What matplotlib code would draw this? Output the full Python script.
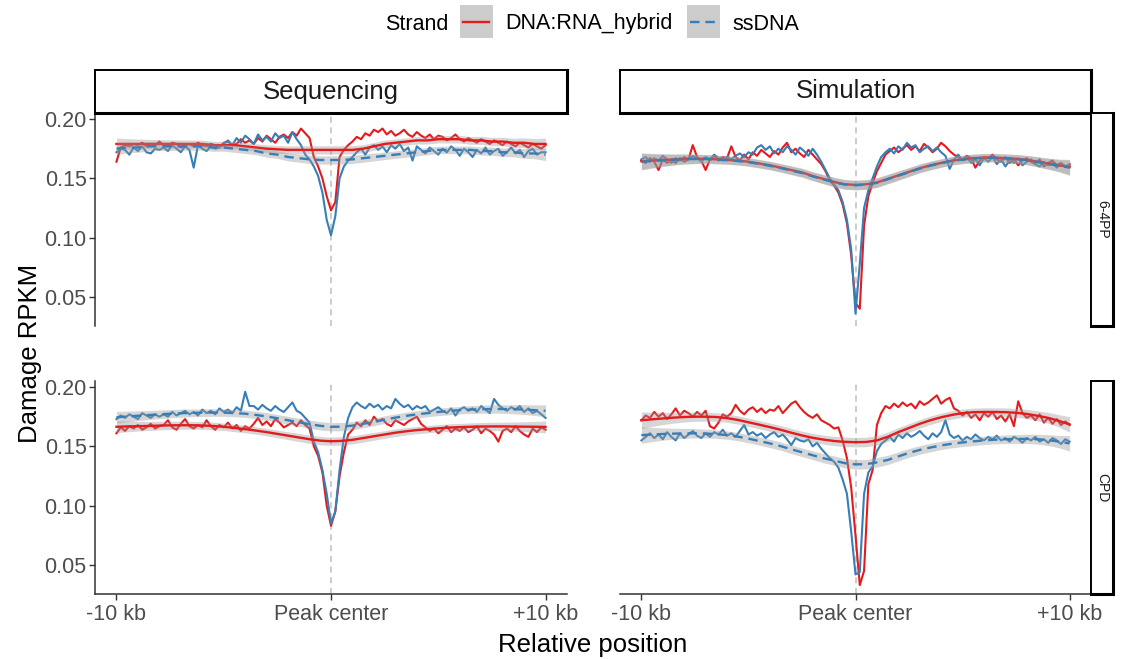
import numpy as np
import matplotlib
matplotlib.use("Agg")
import matplotlib.pyplot as plt
from matplotlib.patches import Rectangle
from matplotlib.lines import Line2D

plt.rcParams['font.family'] = ['Liberation Sans', 'DejaVu Sans']

# ---------------- data (values in thousandths of RPKM) ----------------
strands = ["DNA:RNA_hybrid", "ssDNA"]
methods = ["Sequencing", "Simulation"]
damages = ["6-4PP", "CPD"]
x_tick_labels = ["-10 kb", "Peak center", "+10 kb"]
y_ticks = [0.05, 0.10, 0.15, 0.20]

# raw profiles, 101 bins from -10 kb to +10 kb
seq_64pp_hybrid = [164,176,178,177,179,178,180,177,179,178,181,
                   178,177,180,179,176,178,179,177,180,178,
                   177,179,178,176,180,181,178,179,183,180,
                   182,179,184,181,186,183,180,185,187,184,
                   189,186,192,188,184,
                   168,160,150,135,123,
                   130,168,174,178,181,
                   185,183,188,186,191,
                   189,192,187,190,186,188,191,187,185,189,
                   186,184,187,183,186,185,182,184,187,183,
                   181,184,182,180,183,181,179,182,180,178,
                   181,179,177,180,178,176,179,177,175,178]
seq_64pp_ssdna = [172,175,174,170,176,173,177,172,171,175,174,
                  176,173,178,175,172,177,174,159,178,175,
                  173,177,175,176,179,182,178,184,180,186,
                  183,179,187,182,185,181,188,184,186,180,
                  189,183,178,170,166,
                  160,152,138,115,102,
                  118,150,160,165,168,
                  172,175,170,176,178,
                  174,177,172,178,175,179,173,176,165,177,
                  174,171,176,173,170,175,172,177,174,169,
                  175,172,168,174,171,176,170,173,175,169,
                  172,176,171,174,168,173,175,170,172,172]
sim_64pp_hybrid = [165,163,167,164,157,166,163,165,163,167,164,
                   166,178,168,165,157,166,169,165,168,167,
                   177,168,165,170,166,172,169,174,171,168,
                   173,170,176,180,172,175,171,168,174,170,
                   166,162,156,148,144,
                   138,128,112,85,45,
                   40,110,135,146,156,
                   163,170,173,176,172,
                   175,178,174,177,173,179,176,172,175,180,
                   177,173,170,168,166,169,167,159,165,168,
                   167,170,166,164,168,163,166,161,165,167,
                   164,162,166,160,163,165,161,163,160,162]
sim_64pp_ssdna = [166,168,164,167,165,169,166,163,167,165,168,
                  166,169,167,164,168,166,170,167,165,168,
                  166,169,171,168,172,170,176,178,174,177,
                  171,175,172,177,174,170,176,173,169,175,
                  170,164,157,150,145,
                  140,130,115,90,36,
                  78,125,140,150,160,
                  168,172,175,171,177,
                  174,180,176,178,172,175,177,173,176,172,
                  169,158,166,170,165,168,163,166,161,167,
                  164,168,162,166,160,165,163,167,161,164,
                  166,162,160,164,161,163,159,162,160,161]
seq_cpd_hybrid = [161,166,163,167,165,168,164,166,169,165,167,
                  168,172,166,164,169,173,167,165,168,166,
                  172,167,164,168,166,170,165,168,163,167,
                  165,169,174,168,171,167,173,170,166,168,
                  170,167,172,168,165,
                  150,142,128,100,83,
                  95,125,145,160,164,
                  170,167,172,168,175,
                  171,173,169,167,172,170,168,171,173,175,
                  169,166,163,165,161,164,167,162,165,163,
                  166,162,164,167,161,165,163,160,154,163,
                  165,162,167,163,160,158,165,162,166,164]
seq_cpd_ssdna = [173,176,174,177,175,173,178,176,174,177,175,
                 177,175,179,176,178,180,177,179,176,181,
                 178,180,177,182,179,181,178,183,180,196,
                 184,184,181,185,182,180,184,181,179,183,
                 187,180,178,174,170,
                 154,145,130,110,85,
                 95,130,158,174,183,
                 187,184,182,186,183,
                 185,181,184,182,190,186,183,185,181,184,
                 182,184,179,181,183,180,178,182,176,181,
                 183,180,182,179,184,181,178,190,185,182,
                 180,183,181,184,179,182,178,180,177,174]
sim_cpd_hybrid = [172,176,174,179,175,178,173,177,182,176,180,
                  178,175,179,176,180,167,165,170,177,175,
                  178,185,180,177,181,183,179,182,178,181,
                  180,184,178,182,186,188,183,179,176,174,
                  177,172,170,168,165,
                  166,155,140,115,75,
                  33,45,118,130,168,
                  178,184,182,186,183,
                  187,184,186,182,188,185,187,190,193,186,
                  189,191,182,180,176,179,174,177,172,178,
                  175,179,173,176,171,177,167,188,178,174,
                  176,172,177,170,174,169,173,168,171,168]
sim_cpd_ssdna = [155,158,161,157,160,156,162,158,155,161,157,
                 160,163,159,157,161,158,162,160,164,159,
                 161,158,163,168,160,162,159,161,157,160,
                 162,158,160,156,151,157,155,154,156,150,
                 153,148,144,140,137,
                 132,122,110,78,42,
                 44,110,128,133,146,
                 152,155,158,154,160,
                 157,161,158,160,163,159,156,161,158,162,
                 172,160,157,159,155,158,156,160,157,155,
                 158,156,159,155,157,154,158,156,153,157,
                 155,158,154,156,153,157,155,152,156,154]

# smoothed trends (geom_smooth), 41 points from -10 kb to +10 kb
smooth_seq_64pp_hybrid = [179,179,179,179,179,179,179,179,179,178,178,178,177,176,175,174.5,174,174,174,174,174,
                          174,174,175,177,179,180,181,182,182,183,183,183,182,182,181,181,180,180,179,179]
smooth_seq_64pp_ssdna = [175,176,176,177,177,177,177,177,177,176,176,175,174,173,171,170,168,167,166,165.5,165.5,
                         165.5,166,167,168,169,170,171,172,173,174,174,174,174,173,173,172,172,171,171,170]
smooth_sim_64pp_hybrid = [164.5,165,165.5,166,166.5,166.5,166.5,166,165.5,165,164,162.5,161,159,157,155,152,149.5,147,145,144.5,
                          145,146.5,149.5,152.5,155.5,158.5,161,163,165,166,167,167.5,167.5,167,166.5,165.5,164,162.5,161,159.5]
smooth_sim_64pp_ssdna = [164,164.6,165.2,165.7,166.1,166.3,166.3,165.9,165.3,164.6,163.6,162.2,160.6,158.7,156.6,154.5,151.7,149.2,146.7,144.8,144.2,
                         144.6,146.2,149.2,152.2,155.2,158.2,160.7,162.7,164.7,165.8,166.8,167.3,167.3,166.9,166.3,165.3,163.8,162.2,160.6,159]
smooth_seq_cpd_hybrid = [166.5,166.8,167,167.2,167.5,167.7,167.8,167.8,167.6,167.2,166.5,165.5,164.5,163.3,162,160.5,159,157.5,156,154.8,154.3,
                         154.6,155.5,157,158.5,160,161.5,162.7,163.7,164.5,165.2,165.8,166.2,166.5,166.7,166.8,166.8,166.7,166.6,166.5,166.4]
smooth_seq_cpd_ssdna = [174.5,175.2,175.8,176.4,177,177.5,177.9,178.2,178.4,178.5,178.4,178.1,177.5,176.5,175.2,173.7,172,170.3,168.7,167.3,166.5,
                        166.6,167.5,169,170.7,172.5,174.2,175.7,177,178,179,179.8,180.5,181,181.3,181.5,181.5,181.3,181,180.5,180]
smooth_sim_cpd_hybrid = [172,172.8,173.5,174.2,174.7,175,175,174.7,173.8,172.3,170.3,168.3,166.2,164,161.5,159.2,157.2,155.7,154.5,153.8,153.5,
                         153.7,155,158,162,165.5,169,172,174.5,176.5,178,178.8,179,179,178.8,178.3,177.3,175.8,174,171.5,168.5]
smooth_sim_cpd_ssdna = [159.5,160,160.4,160.7,160.9,161,160.8,160.3,159.5,158.2,156.5,154.5,152.5,150.2,147.5,145,142.5,140,138,135.8,134.8,
                        135,136.5,138.5,141.5,144.5,147,149,150.8,152.2,153.3,154.2,155,155.6,156,156.2,156.3,156,155.3,154,152.5]

# standard-error half widths of the smooth ribbons (41 points)
se_sequencing = [5.0,4.5,4.1,3.8,3.6,3.5,3.4,3.3,3.2,3.2,3.1,3.1,3.1,3.1,3.2,3.2,3.3,3.4,3.5,3.5,3.5,
                 3.5,3.5,3.4,3.3,3.2,3.2,3.1,3.1,3.1,3.1,3.2,3.2,3.3,3.4,3.5,3.6,3.8,4.1,4.5,5.0]
se_simulation = [7.0,6.0,5.2,4.6,4.2,3.9,3.7,3.6,3.5,3.5,3.5,3.5,3.5,3.5,3.6,3.6,3.7,3.8,3.9,4.0,4.0,
                 4.0,4.0,3.9,3.8,3.7,3.6,3.6,3.5,3.5,3.5,3.5,3.5,3.5,3.6,3.7,3.9,4.2,4.6,5.2,6.5]

raw = {("Sequencing", "6-4PP"): (seq_64pp_hybrid, seq_64pp_ssdna),
       ("Simulation", "6-4PP"): (sim_64pp_hybrid, sim_64pp_ssdna),
       ("Sequencing", "CPD"): (seq_cpd_hybrid, seq_cpd_ssdna),
       ("Simulation", "CPD"): (sim_cpd_hybrid, sim_cpd_ssdna)}
smooth = {("Sequencing", "6-4PP"): (smooth_seq_64pp_hybrid, smooth_seq_64pp_ssdna),
          ("Simulation", "6-4PP"): (smooth_sim_64pp_hybrid, smooth_sim_64pp_ssdna),
          ("Sequencing", "CPD"): (smooth_seq_cpd_hybrid, smooth_seq_cpd_ssdna),
          ("Simulation", "CPD"): (smooth_sim_cpd_hybrid, smooth_sim_cpd_ssdna)}
se = {"Sequencing": se_sequencing, "Simulation": se_simulation}

for k in raw:
    for s in raw[k]:
        assert len(s) == 101, (k, len(s))
    for s in smooth[k]:
        assert len(s) == 41, (k, len(s))
for k in se:
    assert len(se[k]) == 41

x_raw = np.linspace(-10, 10, 101)
x_smooth = np.linspace(-10, 10, 41)

# ---------------- style ----------------
W, H = 1124, 659
colors = ["#E41A1C", "#377EB8"]
tick_col = "#4D4D4D"


def box(x0, y0, x1, y1):
    return [x0 / W, 1 - y1 / H, (x1 - x0) / W, (y1 - y0) / H]


fig = plt.figure(figsize=(W / 100, H / 100), dpi=100)

col_x = {"Sequencing": (95, 567), "Simulation": (620, 1091)}
row_y = {"6-4PP": (113, 326), "CPD": (381, 594)}

for mi, m in enumerate(methods):
    for di, d in enumerate(damages):
        x0, x1 = col_x[m]
        y0, y1 = row_y[d]
        ax = fig.add_axes(box(x0, y0, x1, y1))
        ax.set_xlim(-11, 11)
        ax.set_ylim(0.0255, 0.2051)
        ax.axvline(0, color="#BEBEBE", lw=1.1, ls=(0, (4, 3)), zorder=1)
        hy, ss = raw[(m, d)]
        for si, vals in enumerate((hy, ss)):
            ax.plot(x_raw, np.array(vals) / 1000, color=colors[si], lw=1.5, zorder=2)
        sh, sd = smooth[(m, d)]
        sev = np.array(se[m]) / 1000
        for si, vals in enumerate((sh, sd)):
            v = np.array(vals) / 1000
            ax.fill_between(x_smooth, v - sev, v + sev, color="#999999", alpha=0.4, lw=0, zorder=3 + si * 2)
            if si == 0:
                ax.plot(x_smooth, v, color=colors[si], lw=1.7, zorder=4 + si * 2)
            else:
                ax.plot(x_smooth, v, color=colors[si], lw=1.7, ls=(0, (4, 2.5)), zorder=4 + si * 2)
        for sp in ax.spines.values():
            sp.set_visible(False)
        ax.set_xticks([-10, 0, 10])
        ax.set_yticks(y_ticks)
        if mi == 0:
            ax.spines["left"].set_visible(True)
            ax.spines["left"].set_color("#333333")
            ax.spines["left"].set_linewidth(1.1)
            ax.set_yticklabels(["%.2f" % t for t in y_ticks])
            ax.tick_params(axis="y", length=4, width=1, color="#333333", labelcolor=tick_col,
                           labelsize=15.5, pad=2)
        else:
            ax.tick_params(axis="y", left=False, labelleft=False)
        if di == 1:
            ax.spines["bottom"].set_visible(True)
            ax.spines["bottom"].set_color("#333333")
            ax.spines["bottom"].set_linewidth(1.1)
            ax.set_xticklabels(x_tick_labels)
            ax.tick_params(axis="x", length=4, width=1, color="#333333", labelcolor=tick_col,
                           labelsize=15.5, pad=3)
        else:
            ax.tick_params(axis="x", bottom=False, labelbottom=False)

# top strips
for m in methods:
    x0, x1 = col_x[m]
    sax = fig.add_axes(box(x0, 70, x1, 113))
    sax.set_xticks([]); sax.set_yticks([])
    for sp in sax.spines.values():
        sp.set_color("black"); sp.set_linewidth(1.4)
    sax.spines["bottom"].set_linewidth(2.2)
    sax.spines["right"].set_linewidth(2.2)
    sax.text(0.5, 0.5, m, ha="center", va="center", fontsize=18.5, color="#1A1A1A",
             transform=sax.transAxes)

# right strips
for d in damages:
    y0, y1 = row_y[d]
    sax = fig.add_axes(box(1091, y0, 1113, y1))
    sax.set_xticks([]); sax.set_yticks([])
    for sp in sax.spines.values():
        sp.set_color("black"); sp.set_linewidth(1.4)
    sax.spines["bottom"].set_linewidth(2.2)
    sax.spines["right"].set_linewidth(2.2)
    sax.text(0.5, 0.5, d, ha="center", va="center", rotation=270, fontsize=10,
             color="#1A1A1A", transform=sax.transAxes)

# axis titles
fig.text(30 / W, 1 - 353 / H, "Damage RPKM", rotation=90, ha="center", va="center", fontsize=18.5)
fig.text(593 / W, 1 - 645 / H, "Relative position", ha="center", va="center", fontsize=18.5)

# legend
fig.text(385 / W, 1 - 24 / H, "Strand", ha="left", va="center", fontsize=15.5)
key_x = [460, 687]
lab_x = [505, 732]
for si in range(2):
    kx = key_x[si]
    fig.patches.append(Rectangle((kx / W, 1 - 38 / H), 33 / W, 33 / H, transform=fig.transFigure,
                                 facecolor="#CCCCCC", edgecolor="none"))
    ls = "-" if si == 0 else (0, (4, 2.5))
    fig.lines.append(Line2D([(kx + 3) / W, (kx + 29) / W], [1 - 22 / H, 1 - 22 / H],
                            transform=fig.transFigure, color=colors[si], lw=1.7, ls=ls))
    fig.text(lab_x[si] / W, 1 - 24 / H, strands[si], ha="left", va="center", fontsize=15.5)

fig.savefig("out.png", dpi=100)
